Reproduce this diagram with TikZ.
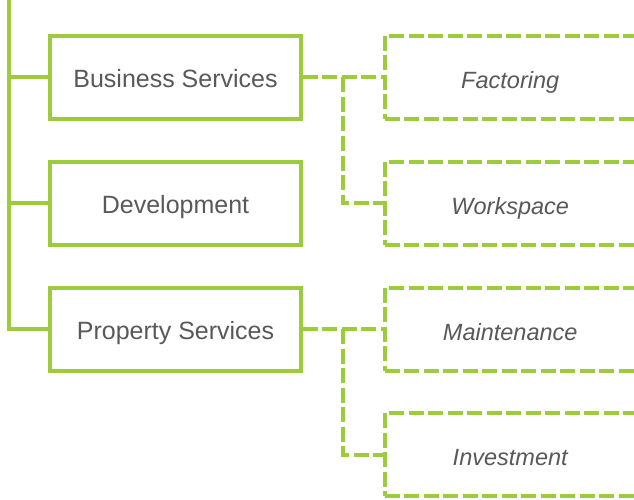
\documentclass[tikz,border=0pt]{standalone}
\usepackage{fontspec}
\setmainfont{Liberation Sans}
\usetikzlibrary{calc}
\definecolor{grn}{RGB}{156,203,59}
\definecolor{txt}{RGB}{89,89,89}
\tikzset{
  mainbox/.style={draw=grn, line width=4pt, fill=white, minimum width=250.5pt, minimum height=83pt, inner sep=0pt, text=txt, text height=20.8pt, text depth=0pt, font=\fontsize{25}{30}\selectfont},
  subbox/.style={draw=grn, line width=4pt, dash pattern=on 15pt off 4.5pt, fill=white, minimum width=251pt, minimum height=83pt, inner sep=0pt, text=txt, text height=22pt, text depth=0pt, font=\fontsize{23.5}{28}\selectfont\itshape},
  trunkline/.style={draw=grn, line width=4pt},
  dashline/.style={draw=grn, line width=4pt, dash pattern=on 15pt off 4.5pt},
}
\begin{document}
\begin{tikzpicture}[x=1pt,y=-1pt]
\useasboundingbox (0,0) rectangle (634,500);
\node[mainbox] (b) at (175.5,77.5) {Business Services};
\node[mainbox] (d) at (175.5,203) {Development};
\node[mainbox] (p) at (175.5,329) {Property Services};
\node[subbox] (f) at (510.2,77.5) {Factoring};
\node[subbox] (w) at (510.2,203) {Workspace};
\node[subbox] (m) at (510.2,329) {Maintenance};
\node[subbox] (i) at (510.2,454.5) {Investment};
\coordinate (top) at (8.5,-5);
\draw[trunkline] (top) |- (p.west);
\draw[trunkline] (top |- b.west) -- (b.west);
\draw[trunkline] (top |- d.west) -- (d.west);
\draw[dashline] (b.east) -- (f.west);
\draw[dashline] ($(b.east)!0.5!(f.west)$) |- (w.west);
\draw[dashline] (p.east) -- (m.west);
\draw[dashline] ($(p.east)!0.5!(m.west)$) |- (i.west);
\end{tikzpicture}
\end{document}
